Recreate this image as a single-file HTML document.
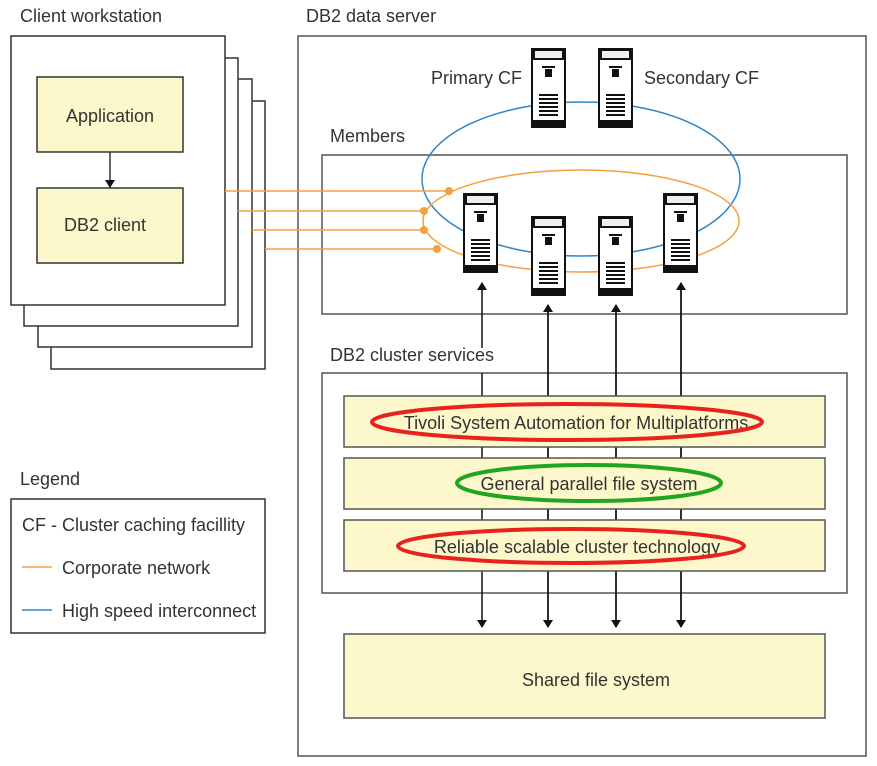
<!DOCTYPE html>
<html><head><meta charset="utf-8"><style>
html,body{margin:0;padding:0;background:#fff;}
svg{display:block;}
text{font-family:"Liberation Sans",Arial,sans-serif;font-size:18px;fill:#333;}
</style></head><body>
<svg width="877" height="766" viewBox="0 0 877 766" xmlns="http://www.w3.org/2000/svg">
<defs>
<marker id="ah" markerWidth="8" markerHeight="10" refX="7" refY="5" orient="auto" markerUnits="userSpaceOnUse">
<path d="M0,0 L8,5 L0,10 Z" fill="#111"/></marker>
<g id="srv">
<rect x="1" y="1" width="33" height="78" fill="#fff" stroke="#111" stroke-width="2"/>
<rect x="0" y="0" width="35" height="12" fill="#111"/>
<rect x="4" y="3" width="27" height="7" fill="#eee"/>
<rect x="11" y="18" width="13" height="2" fill="#111"/>
<rect x="14" y="21" width="7" height="8" fill="#111"/>
<g fill="#111"><rect x="8" y="46" width="19" height="2"/><rect x="8" y="50" width="19" height="2"/><rect x="8" y="54" width="19" height="2"/><rect x="8" y="58" width="19" height="2"/><rect x="8" y="62" width="19" height="2"/><rect x="8" y="66" width="19" height="2"/></g>
<rect x="0" y="72" width="35" height="8" fill="#111"/>
</g>
</defs>

<g fill="#fff" stroke="#333" stroke-width="1.5">
<rect x="51" y="101" width="214" height="268"/>
<rect x="38" y="79" width="214" height="268"/>
<rect x="24" y="58" width="214" height="268"/>
<rect x="11" y="36" width="214" height="269"/>
</g>
<text x="20" y="22">Client workstation</text>
<rect x="37" y="77" width="146" height="75" fill="#fdf8cc" stroke="#333" stroke-width="1.5"/>
<text x="110" y="122" text-anchor="middle">Application</text>
<rect x="37" y="188" width="146" height="75" fill="#fdf8cc" stroke="#333" stroke-width="1.5"/>
<text x="105" y="231" text-anchor="middle">DB2 client</text>
<line x1="110" y1="152" x2="110" y2="187" stroke="#333" stroke-width="1.5" marker-end="url(#ah)"/>

<text x="306" y="22">DB2 data server</text>
<rect x="298" y="36" width="568" height="720" fill="none" stroke="#555" stroke-width="1.5"/>
<text x="330" y="142">Members</text>
<rect x="322" y="155" width="525" height="159" fill="none" stroke="#555" stroke-width="1.5"/>

<ellipse cx="581" cy="179" rx="159" ry="77" fill="none" stroke="#2f86c8" stroke-width="1.5"/>
<ellipse cx="581" cy="221" rx="158" ry="51" fill="none" stroke="#f5a040" stroke-width="1.5"/>

<g stroke="#f5a040" stroke-width="1.5">
<line x1="225" y1="191" x2="450" y2="191"/>
<line x1="238" y1="211" x2="424" y2="211"/>
<line x1="252" y1="230" x2="424" y2="230"/>
<line x1="265" y1="249" x2="437" y2="249"/>
</g>
<g fill="#f5a040">
<circle cx="449" cy="191" r="4"/><circle cx="424" cy="211" r="4"/><circle cx="424" cy="230" r="4"/><circle cx="437" cy="249" r="4"/>
</g>

<use href="#srv" x="531" y="48"/>
<use href="#srv" x="598" y="48"/>
<use href="#srv" x="463" y="193"/>
<use href="#srv" x="531" y="216"/>
<use href="#srv" x="598" y="216"/>
<use href="#srv" x="663" y="193"/>
<text x="431" y="84">Primary CF</text>
<text x="644" y="84">Secondary CF</text>

<text x="330" y="361">DB2 cluster services</text>
<rect x="322" y="373" width="525" height="220" fill="none" stroke="#555" stroke-width="1.5"/>

<g stroke="#111" stroke-width="1.5">
<line x1="482" y1="348" x2="482" y2="283" marker-end="url(#ah)"/>
<line x1="482" y1="373" x2="482" y2="627" marker-end="url(#ah)"/>
<line x1="548" y1="627" x2="548" y2="305" marker-end="url(#ah)"/>
<line x1="548" y1="305" x2="548" y2="627" marker-end="url(#ah)"/>
<line x1="616" y1="627" x2="616" y2="305" marker-end="url(#ah)"/>
<line x1="616" y1="305" x2="616" y2="627" marker-end="url(#ah)"/>
<line x1="681" y1="627" x2="681" y2="283" marker-end="url(#ah)"/>
<line x1="681" y1="283" x2="681" y2="627" marker-end="url(#ah)"/>
</g>

<g fill="#fdf8cc" stroke="#555" stroke-width="1.5">
<rect x="344" y="396" width="481" height="51"/>
<rect x="344" y="458" width="481" height="51"/>
<rect x="344" y="520" width="481" height="51"/>
<rect x="344" y="634" width="481" height="84"/>
</g>
<text x="576" y="429" text-anchor="middle">Tivoli System Automation for Multiplatforms</text>
<text x="589" y="490" text-anchor="middle">General parallel file system</text>
<text x="577" y="553" text-anchor="middle">Reliable scalable cluster technology</text>
<text x="596" y="686" text-anchor="middle">Shared file system</text>
<ellipse cx="567" cy="422" rx="195" ry="18" fill="none" stroke="#e8231e" stroke-width="4"/>
<ellipse cx="589" cy="483" rx="132" ry="18" fill="none" stroke="#1fa51f" stroke-width="4"/>
<ellipse cx="571" cy="546" rx="173" ry="17" fill="none" stroke="#e8231e" stroke-width="4"/>

<text x="20" y="485">Legend</text>
<rect x="11" y="499" width="254" height="134" fill="#fff" stroke="#333" stroke-width="1.5"/>
<text x="22" y="531">CF - Cluster caching facillity</text>
<line x1="22" y1="567" x2="52" y2="567" stroke="#f5a040" stroke-width="1.5"/>
<text x="62" y="574">Corporate network</text>
<line x1="22" y1="610" x2="52" y2="610" stroke="#2f86c8" stroke-width="1.5"/>
<text x="62" y="617">High speed interconnect</text>
</svg>
</body></html>
